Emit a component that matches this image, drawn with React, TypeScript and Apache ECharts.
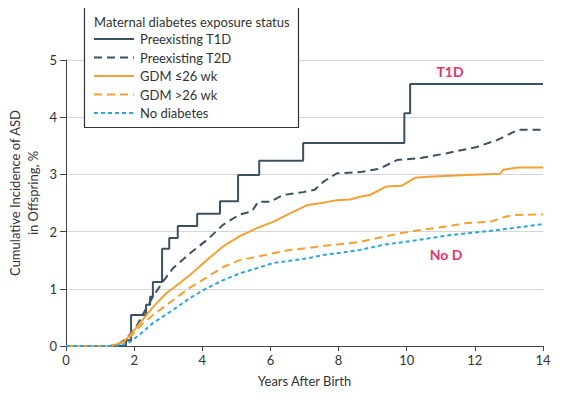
import React, { useEffect, useRef } from "react";
import * as echarts from "echarts";

const seriesNames = ["Preexisting T1D", "Preexisting T2D", "GDM ≤26 wk", "GDM >26 wk", "No diabetes"];

// [years, cumulative incidence %]
const t1d: number[][] = [
  [0, 0], [1.76, 0.1], [1.91, 0.54], [2.35, 0.72], [2.47, 0.86], [2.55, 1.12], [2.82, 1.7],
  [3.03, 1.89], [3.28, 2.1], [3.85, 2.31], [4.52, 2.53], [5.05, 2.99], [5.67, 3.24],
  [6.96, 3.55], [9.93, 4.07], [10.1, 4.58], [14, 4.58],
];
const t2d: number[][] = [
  [0, 0], [1.3, 0], [1.55, 0.04], [1.75, 0.12], [2.03, 0.3], [2.3, 0.6], [2.55, 0.86],
  [2.85, 1.13], [3.14, 1.36], [3.64, 1.62], [4.17, 1.87], [4.61, 2.12], [5.1, 2.3],
  [5.45, 2.35], [5.64, 2.52], [5.99, 2.52], [6.37, 2.64], [6.96, 2.69], [7.3, 2.73],
  [7.55, 2.87], [7.95, 3.02], [8.63, 3.04], [9.2, 3.1], [9.71, 3.25], [10.45, 3.29],
  [11.18, 3.37], [12.06, 3.48], [12.65, 3.6], [13.27, 3.78], [14, 3.78],
];
const gdmEarly: number[][] = [
  [0, 0], [1.3, 0], [1.55, 0.04], [1.7, 0.08], [1.88, 0.19], [2.2, 0.42], [2.55, 0.68],
  [2.96, 0.93], [3.14, 1.01], [3.64, 1.24], [4.17, 1.52], [4.61, 1.74], [5.1, 1.92],
  [5.6, 2.06], [6.08, 2.17], [6.57, 2.32], [7.07, 2.46], [7.5, 2.5], [7.95, 2.55],
  [8.34, 2.56], [8.63, 2.61], [8.92, 2.64], [9.41, 2.79], [9.85, 2.8], [10.24, 2.94],
  [10.63, 2.96], [11.76, 2.99], [12.74, 3.01], [12.83, 3.08], [13.27, 3.12], [14, 3.12],
];
const gdmLate: number[][] = [
  [0, 0], [1.3, 0], [1.55, 0.03], [1.7, 0.07], [1.88, 0.16], [2.2, 0.36], [2.55, 0.54],
  [3.14, 0.8], [3.64, 1.02], [4.13, 1.2], [4.61, 1.38], [5.1, 1.5], [5.6, 1.56],
  [6.08, 1.62], [6.57, 1.68], [7.07, 1.71], [7.55, 1.75], [8.04, 1.78], [8.63, 1.82],
  [9.32, 1.91], [9.81, 1.97], [10.3, 2.02], [10.79, 2.06], [11.28, 2.1], [11.77, 2.15],
  [12.45, 2.17], [12.84, 2.25], [13.14, 2.29], [14, 2.3],
];
const noDiabetes: number[][] = [
  [0, 0], [1.4, 0], [1.65, 0.02], [1.88, 0.07], [2.2, 0.22], [2.55, 0.4], [3.14, 0.63],
  [3.64, 0.84], [4.13, 1.01], [4.61, 1.15], [5.1, 1.27], [5.6, 1.36], [6.08, 1.45],
  [6.57, 1.49], [7.07, 1.53], [7.55, 1.59], [8.04, 1.63], [8.63, 1.68], [9.32, 1.77],
  [10.3, 1.85], [11.28, 1.94], [12.26, 2.0], [13.24, 2.07], [14, 2.13],
];

const FONT = "Lato";
const SLATE = "#3a5260";
const ORANGE = "#f5a032";
const CYAN = "#2aa8d8";
const PINK = "#e5316d";

const seriesColors = [SLATE, SLATE, ORANGE, ORANGE, CYAN];
const seriesDash: any[] = ["solid", [8, 5], "solid", [8, 5], [4, 3]];

export default function App() {
  const ref = useRef<HTMLDivElement>(null);
  useEffect(() => {
    if (!ref.current) return;
    const chart = echarts.init(ref.current, undefined, { renderer: "svg" });
    const datasets = [t1d, t2d, gdmEarly, gdmLate, noDiabetes];
    const series = seriesNames.map((name, i) => ({
      name,
      type: "line",
      data: datasets[i],
      step: i === 0 ? "end" : undefined,
      showSymbol: false,
      symbol: "none",
      z: 3,
      lineStyle: { color: seriesColors[i], width: 2, type: seriesDash[i] },
      itemStyle: { color: seriesColors[i] },
    }));
    const legendY = [39, 57.5, 76, 94.5, 113];
    const legendGraphics: any[] = [];
    seriesNames.forEach((name, i) => {
      const dash = seriesDash[i];
      legendGraphics.push({
        type: "line",
        z: 11,
        shape: { x1: 94, y1: legendY[i], x2: 134, y2: legendY[i] },
        style: {
          stroke: seriesColors[i],
          lineWidth: 2,
          lineDash: Array.isArray(dash) ? dash : null,
        },
      });
      legendGraphics.push({
        type: "text",
        z: 11,
        x: 140,
        y: legendY[i],
        style: {
          text: name,
          fontSize: 13,
          fontFamily: FONT,
          fill: "#333",
          verticalAlign: "middle",
        },
      });
    });
    chart.setOption({
      animation: false,
      textStyle: { fontFamily: FONT },
      grid: { left: 66, right: 30, top: 60, bottom: 53 },
      xAxis: {
        type: "value",
        min: 0,
        max: 14,
        interval: 2,
        name: "Years After Birth",
        nameLocation: "middle",
        nameGap: 28,
        nameTextStyle: { fontSize: 13, color: "#333", fontFamily: FONT },
        axisLine: { lineStyle: { color: "#444", width: 1 } },
        axisTick: { length: 5, lineStyle: { color: "#444" } },
        axisLabel: { fontSize: 13, color: "#333", margin: 7, fontFamily: FONT },
        splitLine: { show: false },
      },
      yAxis: {
        type: "value",
        min: 0,
        max: 5,
        interval: 1,
        axisLine: { show: true, lineStyle: { color: "#444", width: 1 } },
        axisTick: { show: true, length: 6, lineStyle: { color: "#444" } },
        axisLabel: { fontSize: 13, color: "#333", margin: 9, fontFamily: FONT },
        splitLine: { lineStyle: { color: "#d6d6d6", width: 1 } },
      },
      graphic: [
        {
          type: "rect",
          z: 8,
          shape: { x: 84.5, y: 5.5, width: 214, height: 122 },
          style: { fill: "#fff", stroke: "#333", lineWidth: 1.2 },
        },
        {
          type: "text",
          z: 11,
          x: 94,
          y: 22,
          style: {
            text: "Maternal diabetes exposure status",
            fontSize: 13,
            fontFamily: FONT,
            fill: "#333",
            verticalAlign: "middle",
          },
        },
        ...legendGraphics,
        {
          type: "text",
          x: 24,
          y: 193,
          rotation: Math.PI / 2,
          style: {
            text: "Cumulative Incidence of ASD\nin Offspring, %",
            fontSize: 13,
            lineHeight: 18,
            fontFamily: FONT,
            fill: "#333",
            align: "center",
            verticalAlign: "middle",
          },
        },
        {
          type: "text",
          x: 450,
          y: 71,
          style: {
            text: "T1D",
            fontSize: 14,
            fontWeight: "bold",
            fontFamily: FONT,
            fill: PINK,
            align: "center",
            verticalAlign: "middle",
          },
        },
        {
          type: "text",
          x: 446,
          y: 254,
          style: {
            text: "No D",
            fontSize: 14,
            fontWeight: "bold",
            fontFamily: FONT,
            fill: PINK,
            align: "center",
            verticalAlign: "middle",
          },
        },
      ],
      series,
    });
    return () => chart.dispose();
  }, []);
  return <div ref={ref} style={{ width: 573, height: 399, margin: -8 }} />;
}
